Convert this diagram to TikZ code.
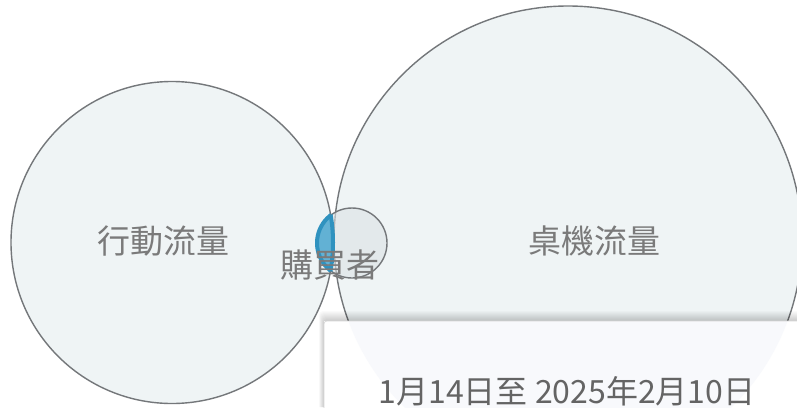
\documentclass[tikz,border=0pt]{standalone}
\usepackage{fontspec}
\setmainfont{Noto Sans CJK TC}
\definecolor{cfill}{HTML}{EFF4F5}
\definecolor{cline}{HTML}{74777A}
\definecolor{sfill}{HTML}{DCE3E5}
\definecolor{lensfill}{HTML}{62B1D4}
\definecolor{lensline}{HTML}{2F92BF}
\definecolor{lbl}{HTML}{7A7A7A}
\definecolor{dtc}{HTML}{646464}
\definecolor{boxin}{HTML}{F8F9FC}
\tikzset{
  venn/.style={draw=cline, line width=1.4pt},
  lbltext/.style={text=lbl, font=\fontsize{33}{36}\selectfont, inner sep=0pt},
  datetext/.style={text=dtc, font=\fontsize{32}{35}\selectfont, inner sep=0pt},
}
\begin{document}
\begin{tikzpicture}[x=1pt,y=-1pt]
\useasboundingbox (0,0) rectangle (797,407);
\fill[white] (0,0) rectangle (797,407);
\coordinate (cL) at (172,242.5);
\coordinate (cR) at (568,240);
\coordinate (cS) at (352,243);
% big circles
\fill[cfill] (cL) circle (161pt);
\fill[cfill] (cR) circle (234pt);
\draw[venn] (cL) circle (161pt);
\draw[venn] (cR) circle (234pt);
% small circle
\fill[sfill, fill opacity=0.6] (cS) circle (35pt);
\draw[venn] (cS) circle (35pt);
% lens (left circle ∩ small circle)
\begin{scope}
  \clip (cS) circle (35pt);
  \fill[lensfill] (cL) circle (161pt);
\end{scope}
\begin{scope}
  \clip (cS) circle (35pt);
  \draw[lensline, line width=4pt] (cL) circle (161pt);
\end{scope}
\begin{scope}
  \clip (cL) circle (161pt);
  \draw[lensline, line width=4pt] (cS) circle (35pt);
\end{scope}
% labels
\node[lbltext] (mob) at (163.5,241) {行動流量};
\node[lbltext] (desk) at (594.5,241) {桌機流量};
\node[lbltext] (buy) at (330,265) {購買者};
% tooltip shadow (outside the box only)
\begin{scope}
  \clip (0,0) rectangle (797,321) (0,321) rectangle (324,407);
  \foreach \s in {1,...,10} {
    \fill[black, opacity=0.02, rounded corners=4pt] ({324-\s*0.5},{321-\s}) rectangle (830,440);
  }
\end{scope}
% tooltip box
\fill[white, rounded corners=3pt] (324,321) rectangle (830,440);
\begin{scope}
  \clip[rounded corners=3pt] (324,321) rectangle (830,440);
  \fill[boxin] (cR) circle (234pt);
\end{scope}
\draw[black!16, line width=0.6pt, rounded corners=3pt] (324,440) -- (324,321) -- (830,321);
\node[datetext] (dt) at (567,391) {1月14日至 2025年2月10日};
\end{tikzpicture}
\end{document}
